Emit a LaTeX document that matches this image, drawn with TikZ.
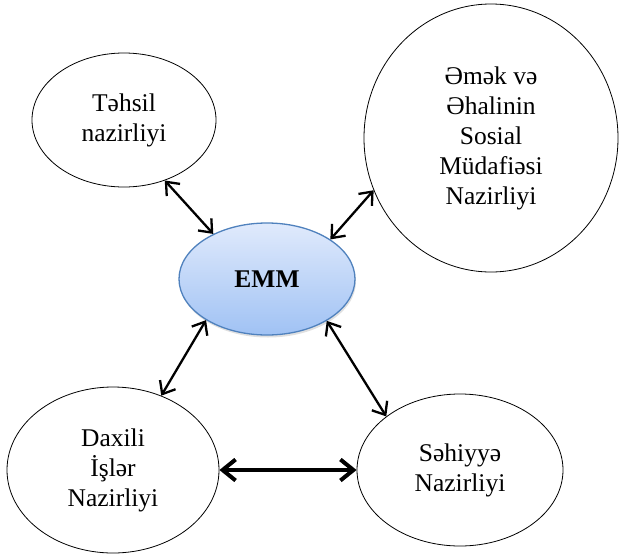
\documentclass[tikz,border=0pt]{standalone}
\usepackage{fontspec}
\setmainfont{Liberation Serif}
\usetikzlibrary{arrows.meta}
\usetikzlibrary{shapes.geometric}
\usetikzlibrary{shadows}

\definecolor{emmtop}{RGB}{224,234,252}
\definecolor{emmbottom}{RGB}{160,194,244}
\definecolor{emmline}{RGB}{79,129,189}

\begin{document}
\begin{tikzpicture}[x=1pt, y=-1pt,
    ministry/.style={ellipse, draw, line width=0.8pt, inner sep=0pt, align=center,
      font=\fontsize{25.5}{30}\selectfont},
    centre/.style={ministry, draw=emmline, line width=1.3pt, top color=emmtop,
      bottom color=emmbottom, font=\fontsize{25.5}{30}\selectfont\bfseries,
      drop shadow={shadow xshift=1pt, shadow yshift=-2.5pt, opacity=0.2, fill=black!60}},
    link/.style={<->, line width=2.3pt},
    >={Straight Barb[length=11pt,width=18pt]}]
      \useasboundingbox (0,0) rectangle (619,555);
      \node[centre, minimum width=176pt, minimum height=112pt]   (emm)     at (267,279) {EMM};
      \node[ministry, minimum width=184pt, minimum height=134pt] (tahsil)  at (124,120) {Təhsil\\nazirliyi};
      \node[ministry, minimum width=254pt, minimum height=268pt] (amek)    at (491,138) {Əmək və\\Əhalinin\\Sosial\\Müdafiəsi\\Nazirliyi};
      \node[ministry, minimum width=212pt, minimum height=166pt] (daxili)  at (113,470) {Daxili\\İşlər\\Nazirliyi};
      \node[ministry, minimum width=206pt, minimum height=152pt] (sehiyye) at (460,470) {Səhiyyə\\Nazirliyi};
      \path[link]
        (tahsil.-56) edge (emm.140)
        (emm.32)     edge (amek.204)
        (emm.214)    edge (daxili.57)
        (emm.-35)    edge (sehiyye.144);
      \draw[link, line width=4pt, >={Straight Barb[length=13pt,width=21pt]}]
        (daxili.east) -- (sehiyye.west);
    \end{tikzpicture}
\end{document}
